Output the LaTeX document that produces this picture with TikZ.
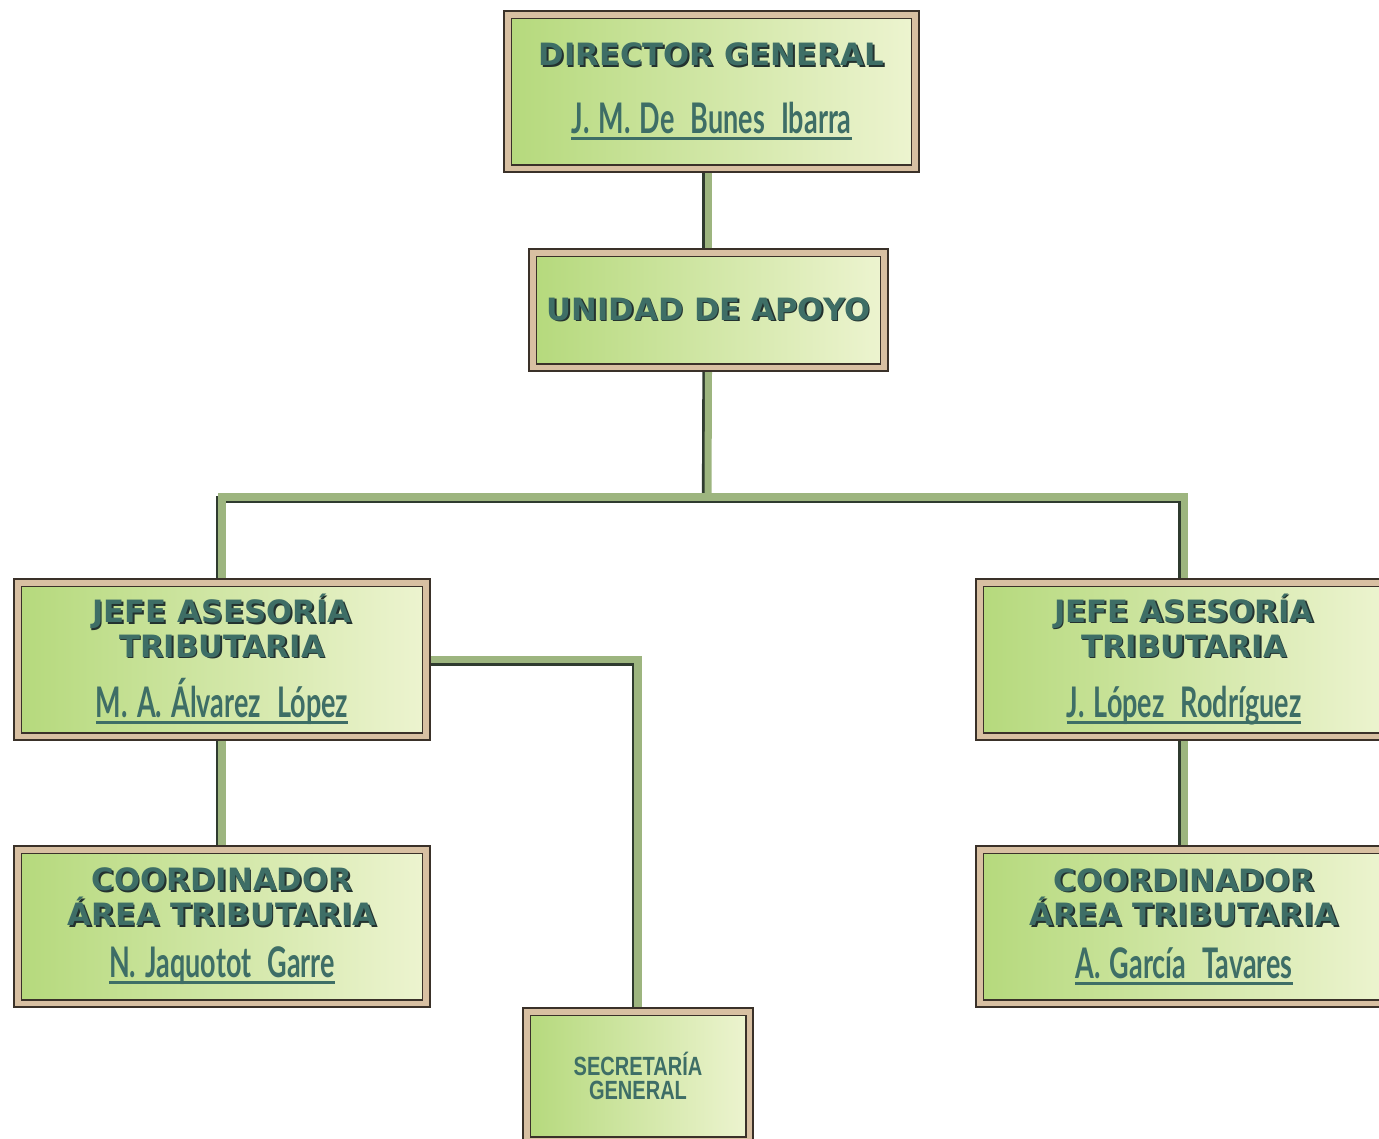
\documentclass[tikz,border=0pt]{standalone}
\usepackage{fontspec}
\setmainfont{DejaVu Sans}
\newfontfamily\namefont[FakeStretch=0.64,WordSpace=1.4]{Lato}
\newfontfamily\secfont[FakeStretch=0.76]{Liberation Sans}
\usetikzlibrary{backgrounds}

\definecolor{txtteal}{HTML}{3E6E66}
\definecolor{txtshadow}{HTML}{23322F}
\definecolor{frametan}{HTML}{D8C0A2}
\definecolor{framedark}{HTML}{3A3129}
\definecolor{boxgreenL}{HTML}{B5D97C}
\definecolor{boxgreenR}{HTML}{EDF4D0}
\definecolor{linkgreen}{HTML}{9DB57F}
\definecolor{linkdark}{HTML}{2F3B2F}

% title text with a dark drop shadow
\newcommand\shtitle[1]{\leavevmode\rlap{\hspace{0.9pt}\raisebox{-0.9pt}{\color{txtshadow}#1}}#1}
% underlined name
\newcommand\uname[1]{\setbox0\hbox{\namefont\fontsize{24}{28}\selectfont #1}\rlap{\rule[-3.6pt]{\wd0}{1.6pt}}\box0}

\tikzset{
  unitbox/.style={draw=framedark, double=frametan, line width=0.9pt, double distance=3.4pt,
    left color=boxgreenL, right color=boxgreenR, text=txtteal, align=center,
    font=\bfseries\fontsize{17.5}{19.8}\selectfont},
  bigbox/.style={unitbox, minimum width=8.18cm, minimum height=3.08cm},
  conn/.style={draw=linkgreen, line width=4pt,
    preaction={draw=linkdark, line width=4pt, transform canvas={shift={(-1.5pt,-1.5pt)}}}}
}

\begin{document}
\begin{tikzpicture}[x=0.02cm,y=-0.02cm]
  \useasboundingbox (0,0) rectangle (1379,1139);
  % boxes
  \node[unitbox, minimum width=8.16cm, minimum height=3.08cm] (dir) at (711.5,91.5)
    {\shtitle{DIRECTOR GENERAL}\\[19pt]\uname{J. M. De\, Bunes\, Ibarra}};
  \node[unitbox, minimum width=7.04cm, minimum height=2.30cm] (unid) at (708.5,310)
    {\shtitle{UNIDAD DE APOYO}};
  \node[bigbox] (jefeL) at (222,659.5)
    {\shtitle{JEFE ASESORÍA}\\\shtitle{TRIBUTARIA}\\[10pt]\uname{M. A. Álvarez\, López}};
  \node[bigbox] (jefeR) at (1184,659.5)
    {\shtitle{JEFE ASESORÍA}\\\shtitle{TRIBUTARIA}\\[10pt]\uname{J. López\, Rodríguez\vphantom{Á}}};
  \node[bigbox] (coordL) at (222,926.5)
    {\shtitle{COORDINADOR}\\\shtitle{ÁREA TRIBUTARIA}\\[10pt]\uname{N. Jaquotot\, Garre}};
  \node[bigbox] (coordR) at (1184,926.5)
    {\shtitle{COORDINADOR}\\\shtitle{ÁREA TRIBUTARIA}\\[10pt]\uname{A. García\, Tavares}};
  \node[unitbox, minimum width=4.46cm, minimum height=2.58cm,
    font=\secfont\bfseries\fontsize{15}{14}\selectfont] (sec) at (638,1076)
    {SECRETARÍA\\GENERAL};
  % connectors
  \coordinate (bus) at (708,497);
  \begin{scope}[on background layer]
    \draw[conn] (unid.north |- dir.south) -- (unid.north);
    \draw[conn] (unid.south) -- (bus);
    \draw[conn] (jefeL.north) |- (bus) -| (jefeR.north);
    \draw[conn] (jefeL.south) -- (coordL.north);
    \draw[conn] (jefeR.south) -- (coordR.north);
    \draw[conn] (jefeL.east) -| (sec.north);
  \end{scope}
\end{tikzpicture}
\end{document}
